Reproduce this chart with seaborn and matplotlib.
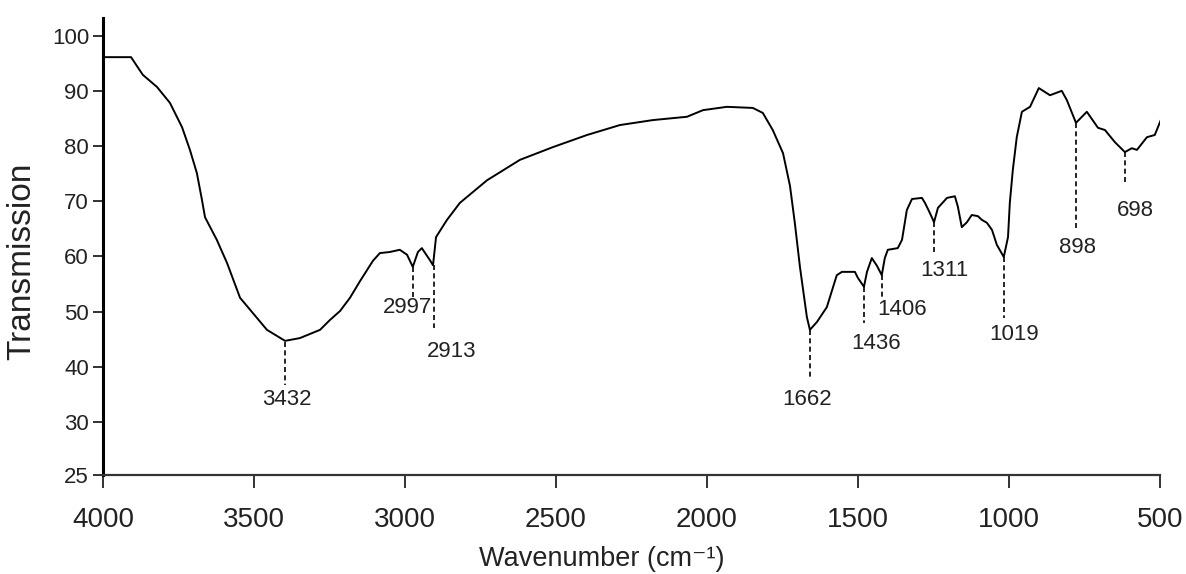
import numpy as np
import pandas as pd
import seaborn as sns
import matplotlib.pyplot as plt

# spectre (nombre d'onde en cm-1, transmission)
wavenumber = [4000, 3907, 3868, 3821, 3778, 3738, 3712, 3689, 3672, 3662,
              3623, 3589, 3546, 3503, 3457, 3397, 3348, 3281, 3248, 3215,
              3182, 3149, 3106, 3083, 3050, 3017, 2993, 2974, 2957, 2944,
              2917, 2907, 2897, 2861, 2818, 2728, 2619, 2510, 2397, 2288,
              2179, 2066, 2013, 1934, 1848, 1815, 1782, 1748, 1725, 1709,
              1692, 1669, 1659, 1636, 1603, 1570, 1553, 1510, 1500, 1480,
              1470, 1454, 1437, 1421, 1411, 1401, 1368, 1354, 1338, 1321,
              1288, 1278, 1262, 1248, 1235, 1205, 1179, 1169, 1156, 1139,
              1123, 1103, 1089, 1073, 1056, 1040, 1017, 1003, 997, 987,
              974, 957, 930, 901, 864, 825, 808, 778, 742, 705,
              682, 649, 616, 593, 576, 543, 517, 497]
transmission = [96.1, 96.1, 92.9, 90.7, 87.8, 83.4, 79.3, 75.1, 70.2, 67.1,
                63.0, 58.8, 52.5, 49.7, 46.7, 44.7, 45.2, 46.7, 48.5, 50.1,
                52.5, 55.5, 59.2, 60.6, 60.8, 61.2, 60.3, 58.1, 60.8, 61.5,
                59.3, 58.4, 63.5, 66.6, 69.7, 73.8, 77.5, 79.8, 82.0, 83.8,
                84.7, 85.3, 86.5, 87.1, 86.9, 86.0, 82.9, 78.7, 72.8, 66.1,
                58.1, 49.0, 46.7, 48.1, 50.8, 56.6, 57.2, 57.2, 56.1, 54.5,
                57.2, 59.7, 58.3, 56.6, 59.7, 61.2, 61.5, 63.0, 68.4, 70.4,
                70.6, 69.7, 67.9, 66.2, 68.8, 70.6, 70.9, 69.0, 65.3, 66.2,
                67.5, 67.3, 66.6, 66.1, 64.8, 62.1, 59.9, 63.5, 69.7, 75.7,
                81.6, 86.2, 87.1, 90.5, 89.2, 90.0, 88.3, 84.2, 86.2, 83.3,
                82.9, 80.7, 78.9, 79.6, 79.3, 81.6, 82.0, 84.7]

# pics annotés
peak_labels = ['3432', '2997', '2913', '1662', '1436', '1406', '1311', '1019', '898', '698']
peak_x = [3397, 2974, 2904, 1659, 1480, 1421, 1248, 1017, 778, 616]
peak_top = [44.5, 58.1, 58.4, 46.7, 54.5, 56.6, 66.2, 59.9, 84.2, 78.9]
peak_bottom = [36.7, 52.6, 47.0, 37.6, 47.9, 52.1, 60.8, 48.8, 65.1, 72.9]
label_x = [3391, 2990, 2844, 1669, 1440, 1354, 1215, 984, 772, 580]
label_y = [34.0, 50.8, 42.7, 34.0, 44.3, 50.3, 57.5, 45.8, 61.7, 68.4]

x_ticks = [4000, 3500, 3000, 2500, 2000, 1500, 1000, 500]
y_ticks = [20.4, 30, 40, 50, 60, 70, 80, 90, 100]
y_ticklabels = ['25', '30', '40', '50', '60', '70', '80', '90', '100']

df = pd.DataFrame({'wn': wavenumber, 'T': transmission})

sns.set_style('ticks')
plt.rcParams['font.family'] = ['Liberation Sans', 'DejaVu Sans']

fig = plt.figure(figsize=(11.86, 5.74), dpi=100)
ax = fig.add_axes([0.0868, 0.1725, 0.8912, 0.7962])

sns.lineplot(data=df, x='wn', y='T', sort=False, estimator=None,
             color='black', linewidth=1.4, ax=ax)

for lab, px, top, bot, lx, ly in zip(peak_labels, peak_x, peak_top, peak_bottom, label_x, label_y):
    ax.plot([px, px], [top, bot], color='black', linestyle=(0, (3, 2)), linewidth=1.2)
    ax.text(lx, ly, lab, ha='center', va='center', fontsize=16, color='#222222')

ax.set_xlim(4000, 500)
ax.set_ylim(20.4, 103.2)
ax.set_xticks(x_ticks)
ax.set_yticks(y_ticks)
ax.set_yticklabels(y_ticklabels)
ax.tick_params(axis='x', labelsize=20, length=9, width=1.3, pad=14, colors='#222222')
ax.tick_params(axis='y', labelsize=16, length=7, width=1.3, pad=3, colors='#222222')

sns.despine(ax=ax)
ax.spines['left'].set_linewidth(2.2)
ax.spines['bottom'].set_linewidth(1.6)
ax.spines['left'].set_color('black')
ax.spines['bottom'].set_color('#333333')

ax.set_xlabel('Wavenumber (cm⁻¹)', fontsize=19.5, color='#222222')
ax.set_ylabel('Transmission', fontsize=24, color='#222222')
ax.xaxis.set_label_coords(0.472, -0.155)
ax.yaxis.set_label_coords(-0.062, 0.468)

fig.savefig('out.png', dpi=100)
